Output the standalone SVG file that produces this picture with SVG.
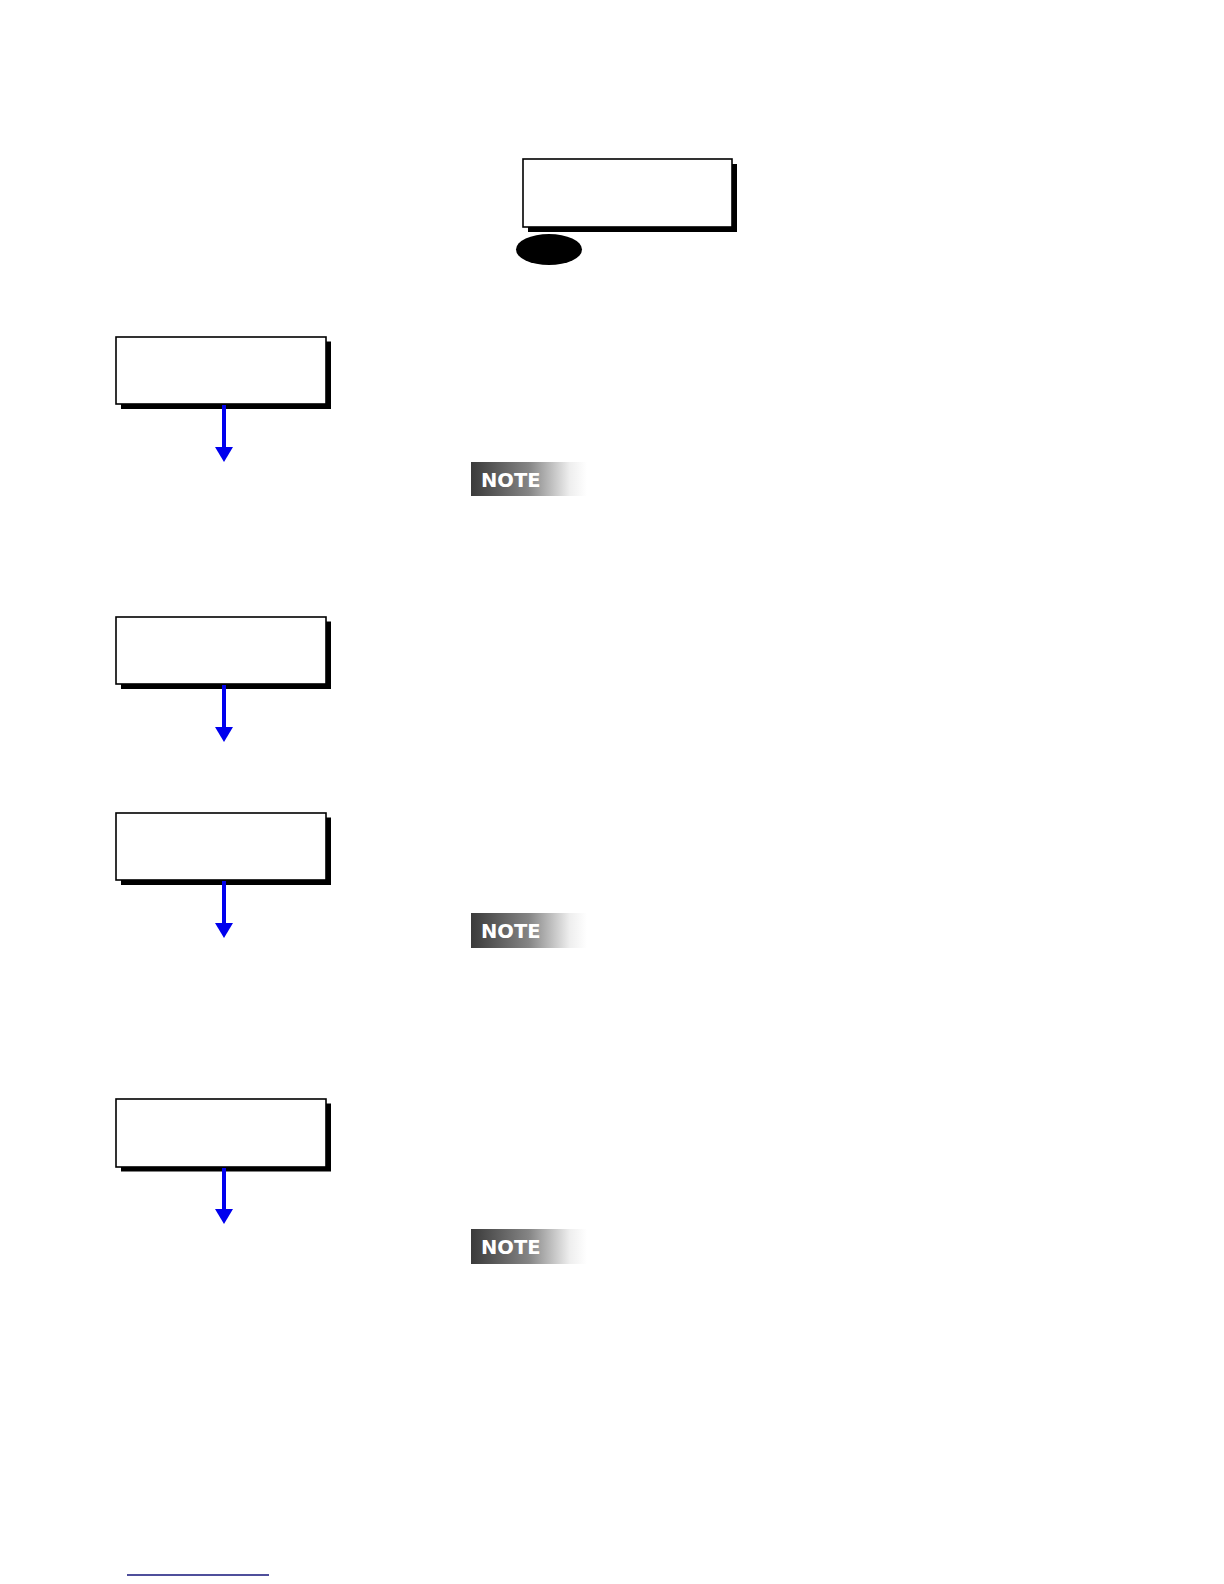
<svg xmlns="http://www.w3.org/2000/svg" width="1224" height="1584" viewBox="0 0 1224 1584">
<defs>
<style>
.box{fill:#fff;stroke:#000;stroke-width:1.6}
.shadow{fill:#000}
.arrow{stroke:#0000ee;stroke-width:4;fill:none}
.head{fill:#0000ee}
.note{fill:url(#ng)}
.notet{font-family:"DejaVu Sans",sans-serif;font-weight:bold;font-size:19.5px;fill:#fff}
</style>
<linearGradient id="ng" x1="0" y1="0" x2="1" y2="0">
<stop offset="0" stop-color="#3a3a3a"/>
<stop offset="0.5" stop-color="#858585"/>
<stop offset="0.85" stop-color="#eeeeee"/>
<stop offset="1" stop-color="#ffffff"/>
</linearGradient>
</defs>
<rect width="1224" height="1584" fill="#fff"/>
<g id="node-top">
<rect class="shadow" x="528" y="164" width="209" height="68"/>
<rect class="box" x="523" y="159" width="209" height="68"/>
<ellipse cx="549" cy="249.5" rx="33" ry="15.5" fill="#000"/>
</g>
<g id="node-1">
<rect class="shadow" x="121" y="341.5" width="210" height="67.5"/>
<rect class="box" x="116" y="337" width="210" height="67"/>
</g>
<g id="node-2">
<rect class="shadow" x="121" y="621.5" width="210" height="67.5"/>
<rect class="box" x="116" y="617" width="210" height="67"/>
</g>
<g id="node-3">
<rect class="shadow" x="121" y="817.5" width="210" height="67.5"/>
<rect class="box" x="116" y="813" width="210" height="67"/>
</g>
<g id="node-4">
<rect class="shadow" x="121" y="1103.5" width="210" height="68"/>
<rect class="box" x="116" y="1099" width="210" height="68"/>
</g>
<g id="connectors">
<line class="arrow" x1="224" y1="405" x2="224" y2="448"/>
<polygon class="head" points="215,447 233,447 224,462"/>
<line class="arrow" x1="224" y1="685" x2="224" y2="728"/>
<polygon class="head" points="215,727 233,727 224,742"/>
<line class="arrow" x1="224" y1="881" x2="224" y2="924"/>
<polygon class="head" points="215,923 233,923 224,938"/>
<line class="arrow" x1="224" y1="1168" x2="224" y2="1210"/>
<polygon class="head" points="215,1209 233,1209 224,1224"/>
</g>
<g id="note-1">
<rect class="note" x="471" y="462" width="116" height="34"/>
<text class="notet" x="481" y="486.5">NOTE</text>
</g>
<g id="note-2">
<rect class="note" x="471" y="913" width="116" height="35"/>
<text class="notet" x="481" y="937.5">NOTE</text>
</g>
<g id="note-3">
<rect class="note" x="471" y="1229" width="116" height="35"/>
<text class="notet" x="481" y="1254">NOTE</text>
</g>
<line x1="127" y1="1575" x2="269" y2="1575" stroke="#14147a" stroke-width="1.6"/>
</svg>
